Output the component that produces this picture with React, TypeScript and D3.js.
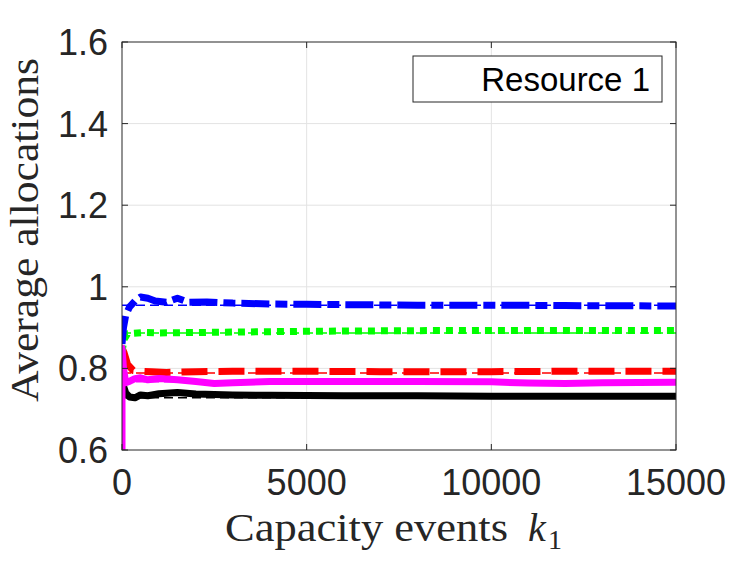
import * as React from 'react';
import * as d3 from 'd3';

// x ticks / y ticks
const xTicks = [0, 5000, 10000, 15000];
const yTicks = [0.6, 0.8, 1, 1.2, 1.4, 1.6];

// series (k = capacity events)
const blueK = [0, 40, 100, 200, 350, 500, 700, 900, 1200, 1500, 1800, 2300, 3000, 4000, 5000, 6500, 8000, 10000, 12000, 15000];
const blueV = [0.86, 0.9, 0.93, 0.95, 0.965, 0.975, 0.972, 0.965, 0.962, 0.972, 0.962, 0.963, 0.96, 0.958, 0.957, 0.956, 0.955, 0.955, 0.954, 0.953];

const greenK = [0, 50, 150, 300, 600, 1000, 2000, 3000, 5000, 7000, 9000, 12000, 15000];
const greenV = [0.84, 0.87, 0.885, 0.886, 0.888, 0.887, 0.888, 0.889, 0.891, 0.892, 0.893, 0.893, 0.893];

const redK = [0, 50, 150, 300, 500, 800, 1200, 2000, 3000, 5000, 7000, 10000, 12000, 15000];
const redV = [0.85, 0.84, 0.81, 0.795, 0.793, 0.792, 0.79, 0.792, 0.793, 0.793, 0.792, 0.792, 0.793, 0.793];

const magentaK = [0, 0, 40, 100, 200, 350, 500, 700, 1000, 1500, 2000, 2500, 3000, 4000, 5000, 6000, 8000, 10000, 11000, 12000, 13000, 15000];
const magentaV = [0.6, 0.85, 0.8, 0.765, 0.768, 0.775, 0.777, 0.772, 0.775, 0.772, 0.768, 0.763, 0.765, 0.768, 0.768, 0.768, 0.768, 0.767, 0.764, 0.763, 0.765, 0.766];

const blackK = [0, 30, 100, 200, 350, 500, 700, 1000, 1500, 2000, 3000, 4000, 6000, 8000, 10000, 12000, 15000];
const blackV = [0.8, 0.76, 0.74, 0.73, 0.728, 0.735, 0.733, 0.738, 0.741, 0.737, 0.735, 0.734, 0.733, 0.733, 0.732, 0.732, 0.732];

// thin reference levels
const refColors = ['#0000ff', '#00ff00', '#ff0000', '#ff00ff', '#000000'];
const refLevels = [0.955, 0.887, 0.789, 0.767, 0.728];

const legendLabels = ['Resource 1'];

const W = 747;
const H = 561;
const left = 122, right = 676, top = 42, bottom = 450;

const App: React.FunctionComponent = () => {
    const ref = React.useRef<SVGSVGElement>(null);

    React.useEffect(() => {
        if (!ref.current) return;
        const svg = d3.select(ref.current);
        svg.selectAll('*').remove();

        const x = d3.scaleLinear().domain([0, 15000]).range([left, right]);
        const y = d3.scaleLinear().domain([0.6, 1.6]).range([bottom, top]);
        const axisColor = '#262626';
        const sans = '"Liberation Sans", Arial, Helvetica, sans-serif';
        const serif = '"Liberation Serif", "Times New Roman", serif';

        svg.append('rect').attr('x', left).attr('y', top).attr('width', right - left).attr('height', bottom - top).attr('fill', '#fff');

        // grid
        const grid = svg.append('g');
        grid.selectAll('line.gx').data(xTicks.slice(1, -1)).join('line')
            .attr('x1', d => x(d)).attr('x2', d => x(d)).attr('y1', top).attr('y2', bottom)
            .attr('stroke', '#e3e3e3').attr('stroke-width', 1);
        grid.selectAll('line.gy').data(yTicks.slice(1, -1)).join('line')
            .attr('y1', d => y(d)).attr('y2', d => y(d)).attr('x1', left).attr('x2', right)
            .attr('stroke', '#e3e3e3').attr('stroke-width', 1);

        const clip = svg.append('clipPath').attr('id', 'plotclip');
        clip.append('rect').attr('x', left).attr('y', top).attr('width', right - left).attr('height', bottom - top);
        const plot = svg.append('g').attr('clip-path', 'url(#plotclip)');

        // thin reference lines
        plot.selectAll('line.ref').data(refLevels).join('line')
            .attr('x1', left).attr('x2', right)
            .attr('y1', d => y(d)).attr('y2', d => y(d))
            .attr('stroke', (d, i) => refColors[i]).attr('stroke-width', 1.5)
            .attr('stroke-dasharray', '9,5');

        const line = d3.line<[number, number]>().x(d => x(d[0])).y(d => y(d[1]));
        const series = [
            { k: blackK, v: blackV, color: '#000000', dash: null },
            { k: redK, v: redV, color: '#ff0000', dash: '26,11' },
            { k: greenK, v: greenV, color: '#00ff00', dash: '7,6' },
            { k: blueK, v: blueV, color: '#0000ff', dash: '28,6,12,6' },
            { k: magentaK, v: magentaV, color: '#ff00ff', dash: null },
        ];
        series.forEach(s => {
            const pts = s.k.map((k, i) => [k, s.v[i]] as [number, number]);
            plot.append('path')
                .attr('d', line(pts))
                .attr('fill', 'none')
                .attr('stroke', s.color)
                .attr('stroke-width', 7)
                .attr('stroke-linejoin', 'round')
                .attr('stroke-dasharray', s.dash);
        });

        // box + ticks
        const ax = svg.append('g');
        const tl = 6;
        xTicks.forEach(t => {
            ax.append('line').attr('x1', x(t)).attr('x2', x(t)).attr('y1', bottom).attr('y2', bottom - tl).attr('stroke', axisColor);
            ax.append('line').attr('x1', x(t)).attr('x2', x(t)).attr('y1', top).attr('y2', top + tl).attr('stroke', axisColor);
        });
        yTicks.forEach(t => {
            ax.append('line').attr('x1', left).attr('x2', left + tl).attr('y1', y(t)).attr('y2', y(t)).attr('stroke', axisColor);
            ax.append('line').attr('x1', right).attr('x2', right - tl).attr('y1', y(t)).attr('y2', y(t)).attr('stroke', axisColor);
        });
        ax.append('rect').attr('x', left).attr('y', top).attr('width', right - left).attr('height', bottom - top)
            .attr('fill', 'none').attr('stroke', axisColor).attr('stroke-width', 1);

        // tick labels
        ax.selectAll('text.xt').data(xTicks).join('text')
            .attr('x', d => x(d)).attr('y', 495)
            .attr('text-anchor', 'middle')
            .attr('font-family', sans).attr('font-size', 36).attr('fill', axisColor)
            .text(d => String(d));
        ax.selectAll('text.yt').data(yTicks).join('text')
            .attr('x', 108).attr('y', d => y(d) + 13)
            .attr('text-anchor', 'end')
            .attr('font-family', sans).attr('font-size', 36).attr('fill', axisColor)
            .text(d => d3.format('~g')(d));

        // axis labels
        svg.append('text')
            .attr('x', 225).attr('y', 541)
            .attr('font-family', serif).attr('font-size', 40).attr('fill', axisColor)
            .attr('textLength', 283).attr('lengthAdjust', 'spacingAndGlyphs')
            .text('Capacity events');
        svg.append('text')
            .attr('x', 528).attr('y', 541)
            .attr('font-family', serif).attr('font-size', 40).attr('font-style', 'italic').attr('fill', axisColor)
            .text('k');
        svg.append('text')
            .attr('x', 548).attr('y', 549)
            .attr('font-family', serif).attr('font-size', 28).attr('fill', axisColor)
            .text('1');
        svg.append('text')
            .attr('transform', 'translate(38,402) rotate(-90)')
            .attr('font-family', serif).attr('font-size', 40).attr('fill', axisColor)
            .attr('textLength', 344).attr('lengthAdjust', 'spacingAndGlyphs')
            .text('Average allocations');

        // legend
        const lg = svg.append('g');
        lg.append('rect').attr('x', 413).attr('y', 56).attr('width', 249).attr('height', 46)
            .attr('fill', '#fff').attr('stroke', axisColor).attr('stroke-width', 1);
        lg.selectAll('text').data(legendLabels).join('text')
            .attr('x', 650).attr('y', 91)
            .attr('text-anchor', 'end')
            .attr('font-family', sans).attr('font-size', 33).attr('fill', '#000')
            .text(d => d);
    });

    return (
        <svg ref={ref} width={W} height={H} style={{ position: 'absolute', left: 0, top: 0, background: '#fff' }} />
    );
};

export default App;
